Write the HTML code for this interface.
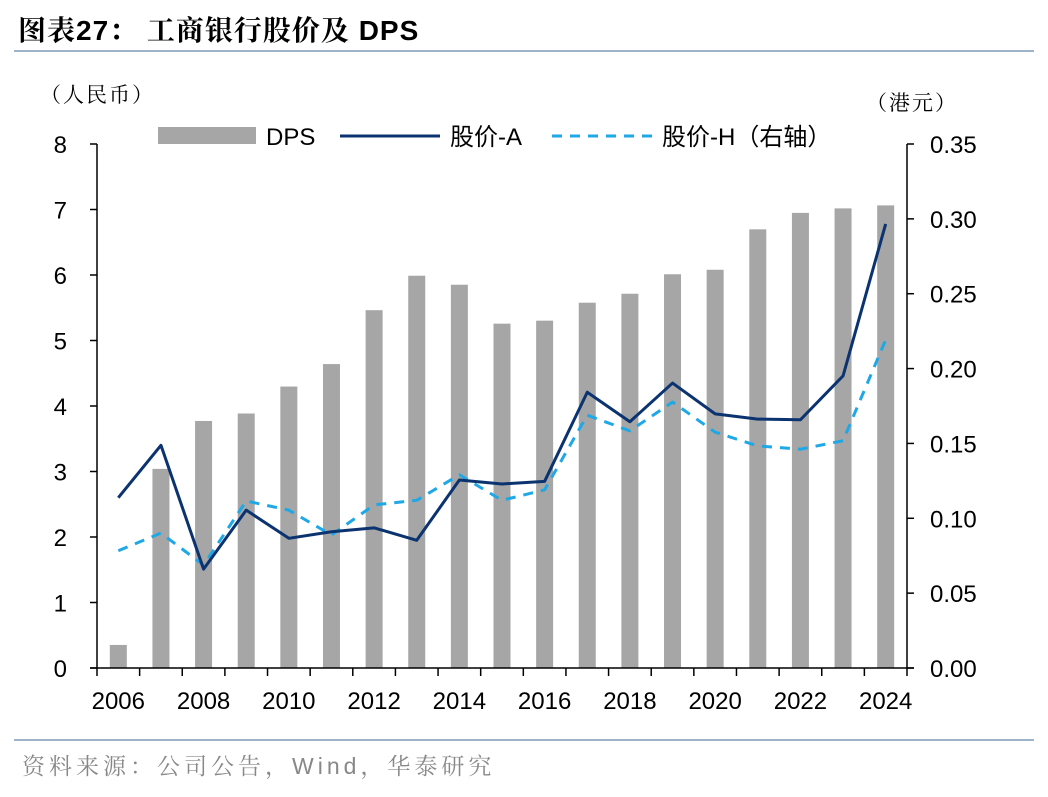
<!DOCTYPE html>
<html><head><meta charset="utf-8"><style>
body{margin:0;background:#fff;width:1048px;height:792px;overflow:hidden;font-family:"Liberation Sans","Noto Sans CJK SC",sans-serif}
svg text{font-family:"Liberation Sans","Noto Sans CJK SC",sans-serif}
svg text.serif{font-family:"Liberation Sans","Noto Serif CJK SC",serif}
</style></head><body>
<svg id="c" width="1048" height="792">
<text class="serif" x="18" y="40" font-size="28" font-weight="bold" fill="#000" letter-spacing="1">图表27：  工商银行股价及 DPS</text>
<line x1="14" y1="51" x2="1034" y2="51" stroke="#7f98b8" stroke-width="1.5"/>
<text class="serif" x="40" y="102" font-size="21" letter-spacing="2">（人民币）</text>
<text class="serif" x="866" y="110" font-size="21" letter-spacing="2">（港元）</text>
<line x1="14" y1="740" x2="1034" y2="740" stroke="#7f98b8" stroke-width="1.5"/>
<text class="serif" x="22" y="774" font-size="23" fill="#888" letter-spacing="4">资料来源：公司公告，Wind，华泰研究</text>
<g id="plot"></g>
<g>
<rect x="158" y="127" width="98" height="17" fill="#a6a6a6"/>
<text x="266" y="145" font-size="24">DPS</text>
<line x1="340" y1="136" x2="440" y2="136" stroke="#0b3370" stroke-width="3"/>
<text x="450" y="145" font-size="24">股价-A</text>
<line x1="552" y1="136" x2="652" y2="136" stroke="#1fa8e6" stroke-width="3" stroke-dasharray="10,8"/>
<text x="662" y="145" font-size="24">股价-H（右轴）</text>
</g>
</svg>
<script>
const years=[2006,2007,2008,2009,2010,2011,2012,2013,2014,2015,2016,2017,2018,2019,2020,2021,2022,2023,2024];
const dps=[0.0154,0.133,0.165,0.170,0.188,0.203,0.239,0.262,0.256,0.230,0.232,0.244,0.250,0.263,0.266,0.293,0.304,0.307,0.309];
const priceA=[2.60,3.40,1.51,2.41,1.98,2.08,2.14,1.95,2.87,2.81,2.85,4.21,3.76,4.35,3.88,3.80,3.79,4.46,6.78];
const priceH=[1.79,2.06,1.57,2.55,2.41,2.03,2.49,2.56,2.95,2.56,2.72,3.86,3.62,4.06,3.60,3.39,3.34,3.47,5.01];
const leftTicks=[0,1,2,3,4,5,6,7,8];
const rightTicks=["0.00","0.05","0.10","0.15","0.20","0.25","0.30","0.35"];
const NS="http://www.w3.org/2000/svg";
const g=document.getElementById('plot');
const X0=97,X1=907,Y0=668,Y1=144;
const bw=(X1-X0)/years.length;
const xc=i=>X0+bw*(i+0.5);
const yL=v=>Y0-(Y0-Y1)*v/8;
const yR=v=>Y0-(Y0-Y1)*v/0.35;
function mk(t,a){const e=document.createElementNS(NS,t);for(const k in a)e.setAttribute(k,a[k]);g.appendChild(e);return e;}
dps.forEach((v,i)=>{
 const r=mk('rect',{x:xc(i)-8.5,y:yR(v),width:17,height:Y0-yR(v),fill:'#a6a6a6'});
 
 
});
function line(arr,color,dash,name){
 const p=mk('polyline',{points:arr.map((v,i)=>xc(i)+','+yL(v)).join(' '),fill:'none',stroke:color,'stroke-width':3,'stroke-dasharray':dash,'stroke-linejoin':'round'});
 
 
}
line(priceH,'#1fa8e6','10,8','line-price-h');
line(priceA,'#0b3370','none','line-price-a');
let ax=mk('line',{x1:X0,y1:Y1,x2:X0,y2:Y0,stroke:'#000','stroke-width':1.5});


ax=mk('line',{x1:X1,y1:Y1,x2:X1,y2:Y0,stroke:'#000','stroke-width':1.5});


ax=mk('line',{x1:X0-7,y1:Y0,x2:X1+7,y2:Y0,stroke:'#000','stroke-width':1.5});


leftTicks.forEach(v=>{
 mk('line',{x1:X0-7,y1:yL(v),x2:X0,y2:yL(v),stroke:'#000','stroke-width':1.5});
 const t=mk('text',{x:X0-30,y:yL(v)+9,'font-size':24,'text-anchor':'end'});t.textContent=v;
 
 
});
rightTicks.forEach(s=>{
 const v=parseFloat(s);
 mk('line',{x1:X1,y1:yR(v),x2:X1+7,y2:yR(v),stroke:'#000','stroke-width':1.5});
 const t=mk('text',{x:X1+23,y:yR(v)+9,'font-size':24});t.textContent=s;
 
 
});
for(let i=0;i<=years.length;i++){mk('line',{x1:X0+bw*i,y1:Y0,x2:X0+bw*i,y2:Y0+8,stroke:'#000','stroke-width':1.5});}
years.forEach((y,i)=>{if(i%2)return;
 const t=mk('text',{x:xc(i),y:Y0+41,'font-size':24,'text-anchor':'middle'});t.textContent=y;
 
 
});
</script>
</body></html>
